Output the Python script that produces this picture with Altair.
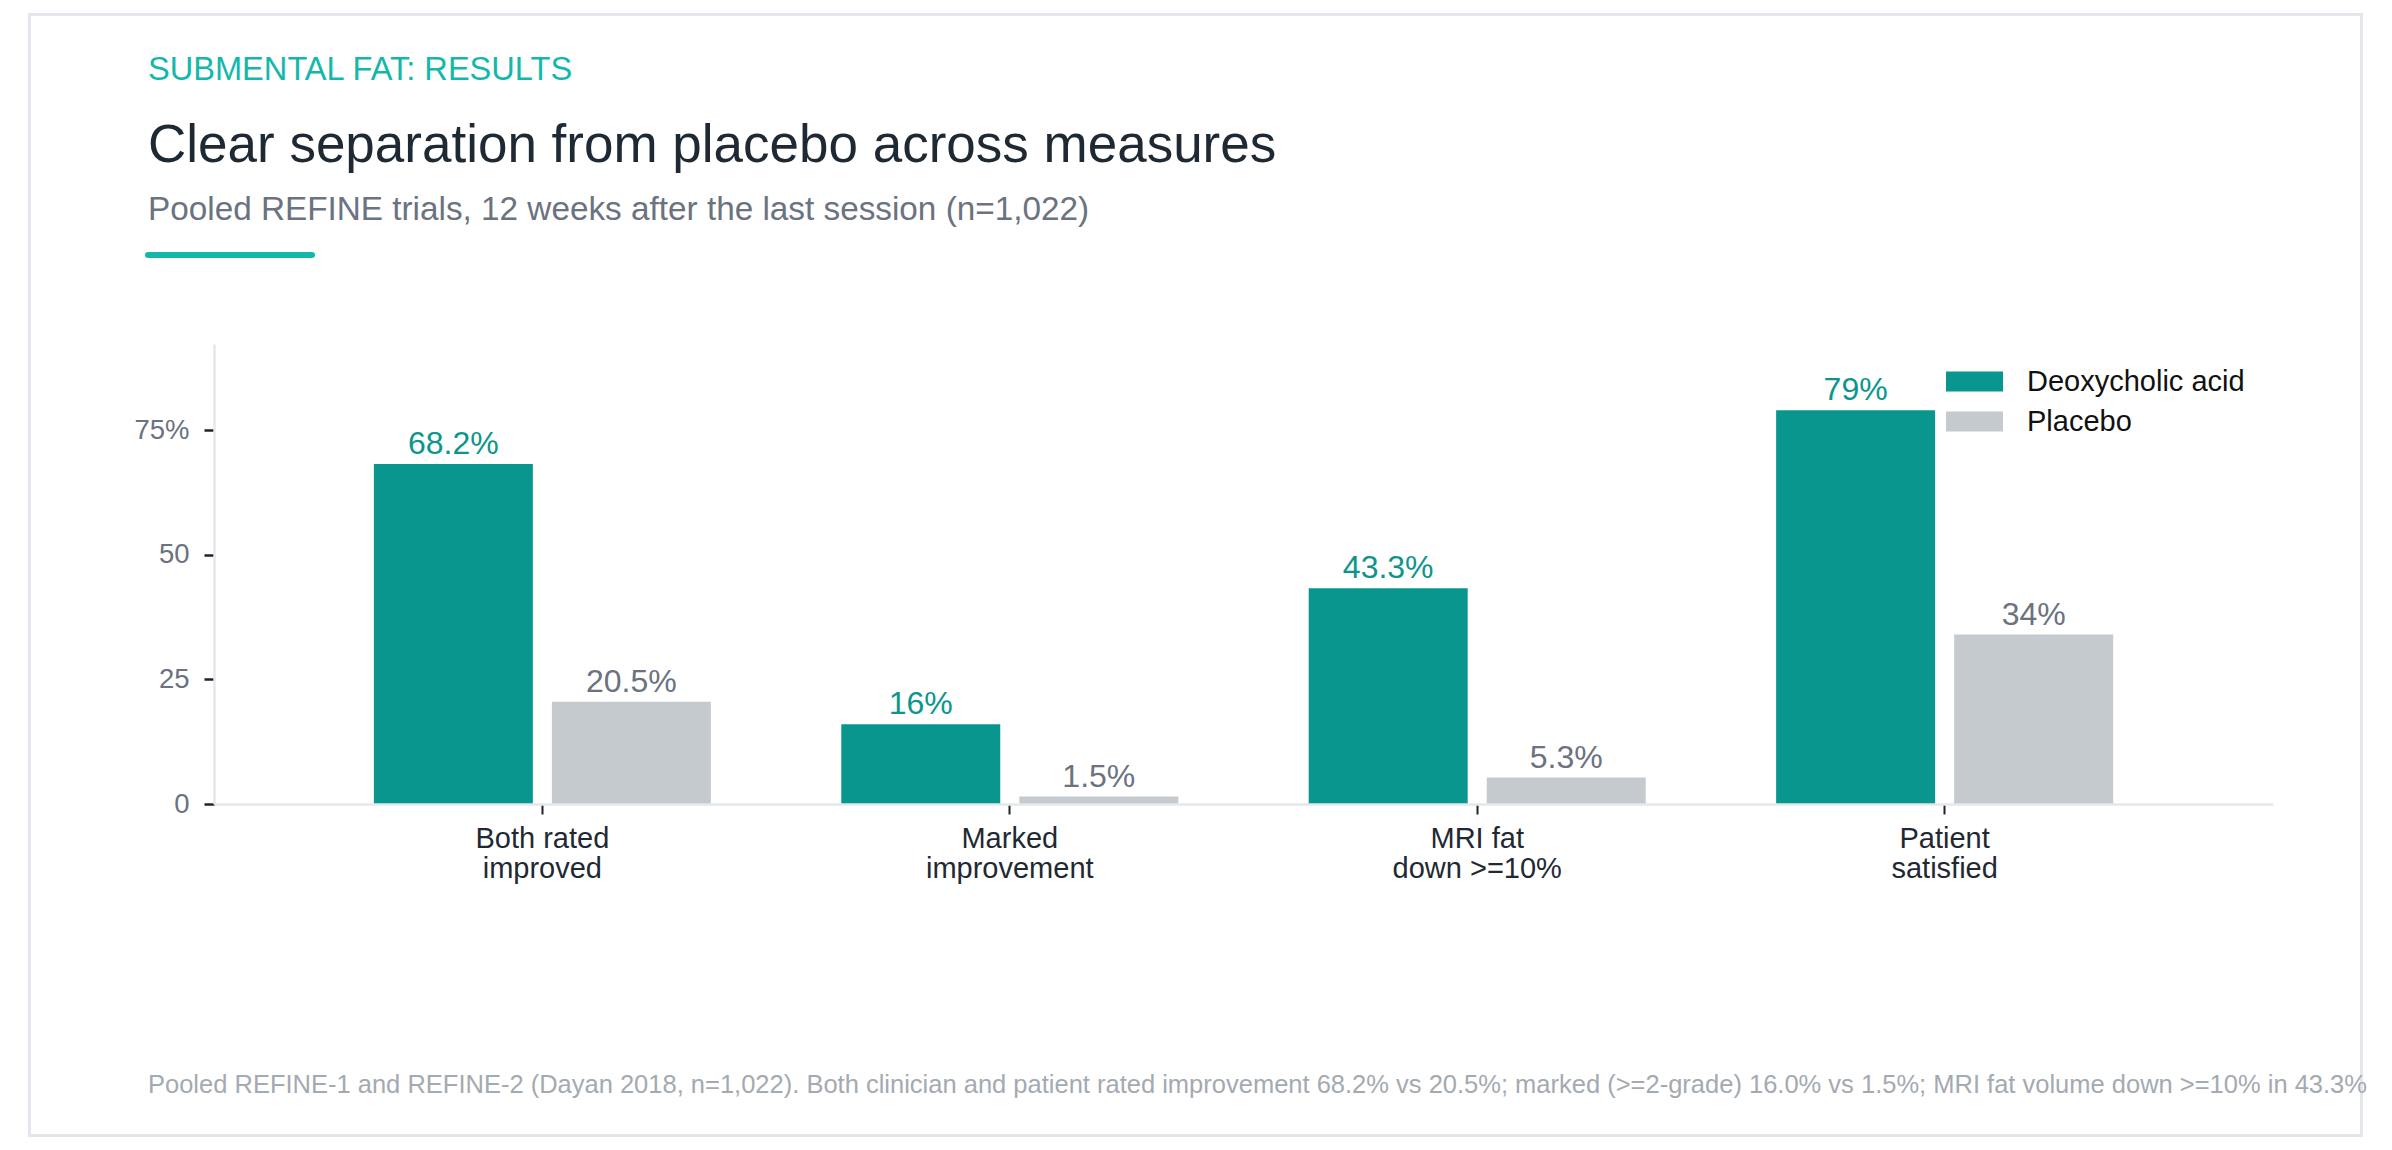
import altair as alt
import pandas as pd

# ---- data -------------------------------------------------------------
measures = ["Both rated\nimproved", "Marked\nimprovement", "MRI fat\ndown >=10%", "Patient\nsatisfied"]
arms = ["Deoxycholic acid", "Placebo"]
deoxycholic = [68.2, 16.0, 43.3, 79.0]
placebo = [20.5, 1.5, 5.3, 34.0]
y_ticks = [0, 25, 50, 75]

kicker = "SUBMENTAL FAT: RESULTS"
headline = "Clear separation from placebo across measures"
subhead = "Pooled REFINE trials, 12 weeks after the last session (n=1,022)"
source_note = ("Pooled REFINE-1 and REFINE-2 (Dayan 2018, n=1,022). Both clinician and patient rated "
               "improvement 68.2% vs 20.5%; marked (>=2-grade) 16.0% vs 1.5%; MRI fat volume down "
               ">=10% in 43.3%")

# ---- styling ----------------------------------------------------------
FONT = "Liberation Sans"
bar_colors = ["#08968e", "#c4cacd"]
label_colors = ["#0c968b", "#6b7280"]
ACCENT = "#14b8aa"
INK = "#1f2933"
MUTED = "#6b7280"
RULE = "#e4e8eb"

# plot area geometry (pixels)
PAD_L, PAD_T = 214, 344
W, H = 2059, 460
PAD_R = 2392 - PAD_L - W
PAD_B = 1150 - PAD_T - H

rows = []
for i, m in enumerate(measures):
    rows.append({"measure": m, "arm": arms[0], "pct": deoxycholic[i]})
    rows.append({"measure": m, "arm": arms[1], "pct": placebo[i]})
df = pd.DataFrame(rows)
one = pd.DataFrame({"k": [0]})

x_enc = alt.X(
    "measure:N",
    sort=measures,
    scale=alt.Scale(paddingInner=0.279, paddingOuter=0.342),
    axis=alt.Axis(
        title=None, labelAngle=0, labelExpr="split(datum.label, '\\n')",
        labelFont=FONT, labelFontSize=29, labelColor=INK, labelLineHeight=30,
        labelPadding=10, tickSize=10, tickWidth=2, tickColor="#1f2328",
        domainColor=RULE, domainWidth=2.5, zindex=1,
    ),
)
xo_enc = alt.XOffset("arm:N", sort=arms, scale=alt.Scale(paddingInner=0.107, paddingOuter=0))
y_enc = alt.Y(
    "pct:Q",
    scale=alt.Scale(domain=[0, 92.3], nice=False),
    axis=alt.Axis(
        title=None, values=y_ticks, grid=False,
        labelExpr="datum.value == 75 ? '75%' : datum.label",
        labelFont=FONT, labelFontSize=27.5, labelColor=MUTED, labelPadding=15,
        tickSize=10, tickWidth=2.5, tickColor="#1f2328",
        domainColor=RULE, domainWidth=2.5, zindex=1,
    ),
)

# card outline
card = alt.Chart(one).mark_rect(fillOpacity=0, stroke="#e3e7eb", strokeWidth=3).encode(
    x=alt.value(-184.5), x2=alt.value(2147.5), y=alt.value(-329.5), y2=alt.value(791.5)
)

bars = alt.Chart(df).mark_bar().encode(
    x=x_enc,
    xOffset=xo_enc,
    y=y_enc,
    color=alt.Color(
        "arm:N",
        scale=alt.Scale(domain=arms, range=bar_colors),
        legend=alt.Legend(
            title=None, orient="none", legendX=1746, legendY=23,
            symbolType="M-2.85,-1H2.85V1H-2.85Z", symbolSize=400, symbolStrokeWidth=0,
            symbolOpacity=1, labelFont=FONT, labelFontSize=29, labelColor="#111111",
            labelOffset=38, labelLimit=500, rowPadding=10,
        ),
    ),
)

values = alt.Chart(df).transform_calculate(
    label="datum.pct + '%'"
).mark_text(dy=-10, baseline="alphabetic", font=FONT, fontSize=32).encode(
    x=alt.X("measure:N", sort=measures),
    xOffset=alt.XOffset("arm:N", sort=arms),
    y="pct:Q",
    text="label:N",
    color=alt.Color("arm:N", scale=alt.Scale(domain=arms, range=label_colors), legend=None),
)

def caption(text, y, size, color, x=-66):
    return alt.Chart(one).mark_text(
        text=text, align="left", baseline="alphabetic", font=FONT, fontSize=size, color=color
    ).encode(x=alt.value(x), y=alt.value(y))

kicker_t = caption(kicker, -264, 32.6, ACCENT)
headline_t = caption(headline, -182, 53, INK)
subhead_t = caption(subhead, -124, 33.3, MUTED)
accent = alt.Chart(one).mark_rule(color=ACCENT, strokeWidth=6, strokeCap="round").encode(
    x=alt.value(-66), x2=alt.value(98), y=alt.value(-89)
)
footer_t = caption(source_note, 749, 25.5, "#a4aab1")

chart = alt.layer(
    card, bars, values, kicker_t, headline_t, subhead_t, accent, footer_t
).resolve_scale(color="independent").properties(
    width=W, height=H,
    padding={"left": PAD_L, "top": PAD_T, "right": PAD_R, "bottom": PAD_B},
    autosize=alt.AutoSizeParams(type="none"),
    background="white",
).configure_view(stroke=None)

chart.save("out.html", embed_options={"renderer": "svg", "actions": False})
